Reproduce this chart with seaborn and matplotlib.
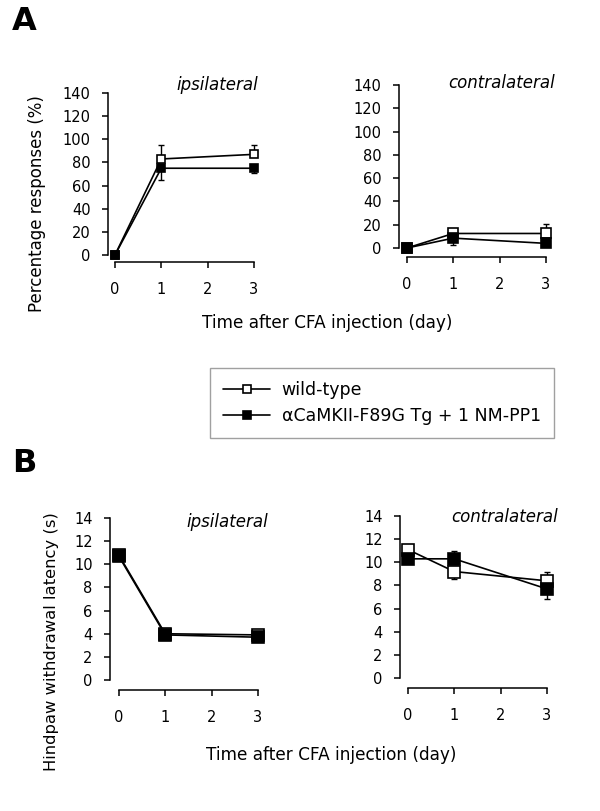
import numpy as np
import pandas as pd
import matplotlib
matplotlib.use("Agg")
import matplotlib.pyplot as plt
import seaborn as sns

# days after CFA injection
days = [0, 1, 3]

# A: percentage responses (%)
a_ipsi_wt = [0, 83, 87]
a_ipsi_wt_lo = [0, 0, 0]
a_ipsi_wt_hi = [0, 12, 8]
a_ipsi_tg = [0, 75, 75]
a_ipsi_tg_lo = [0, 10, 4]
a_ipsi_tg_hi = [0, 0, 0]

a_contra_wt = [0, 12.5, 12.5]
a_contra_wt_lo = [0, 0, 0]
a_contra_wt_hi = [0, 3, 8]
a_contra_tg = [0, 8.5, 4]
a_contra_tg_lo = [0, 6, 1]
a_contra_tg_hi = [0, 0, 0]

# B: hindpaw withdrawal latency (s)
b_ipsi_wt = [10.8, 4.0, 3.9]
b_ipsi_wt_lo = [0, 0, 0]
b_ipsi_wt_hi = [0.3, 0.2, 0.2]
b_ipsi_tg = [10.7, 3.9, 3.7]
b_ipsi_tg_lo = [0.3, 0.2, 0.2]
b_ipsi_tg_hi = [0, 0, 0]

b_contra_wt = [11.1, 9.2, 8.4]
b_contra_wt_lo = [0, 0.6, 0]
b_contra_wt_hi = [0.2, 0, 0.8]
b_contra_tg = [10.3, 10.3, 7.7]
b_contra_tg_lo = [0.2, 0, 0.9]
b_contra_tg_hi = [0, 0.7, 0]

wt_label = "wild-type"
tg_label = "\u03b1CaMKII-F89G Tg + 1 NM-PP1"

sns.set_style("white")
plt.rcParams["font.family"] = ["DejaVu Sans"]
plt.rcParams["text.color"] = "black"

W, H = 600, 811
fig = plt.figure(figsize=(6, 8.11), dpi=100)


def px_axes(left, right, bottom, top):
    return fig.add_axes([left / W, 1 - bottom / H, (right - left) / W, (bottom - top) / H])


def panel(ax, wt, wt_lo, wt_hi, tg, tg_lo, tg_hi, xlim, ylim, yticks, msize):
    df = pd.DataFrame({"day": days, "wt": wt, "tg": tg})
    ax.errorbar(days, wt, yerr=[wt_lo, wt_hi], fmt="none", ecolor="black",
                elinewidth=1.0, capsize=2.5, capthick=1.0, zorder=2, clip_on=False)
    sns.lineplot(data=df, x="day", y="wt", ax=ax, color="black", lw=1.2,
                 marker="s", markersize=msize, markerfacecolor="white",
                 markeredgecolor="black", markeredgewidth=1.2, label=wt_label,
                 zorder=3, clip_on=False, legend=False)
    ax.errorbar(days, tg, yerr=[tg_lo, tg_hi], fmt="none", ecolor="black",
                elinewidth=1.0, capsize=2.5, capthick=1.0, zorder=4, clip_on=False)
    sns.lineplot(data=df, x="day", y="tg", ax=ax, color="black", lw=1.2,
                 marker="s", markersize=msize, markerfacecolor="black",
                 markeredgecolor="black", markeredgewidth=1.2, label=tg_label,
                 zorder=5, clip_on=False, legend=False)
    ax.set_xlim(*xlim)
    ax.set_ylim(*ylim)
    ax.set_xticks([0, 1, 2, 3])
    ax.set_yticks(yticks)
    ax.set_xlabel("")
    ax.set_ylabel("")
    sns.despine(ax=ax)
    ax.spines["left"].set_bounds(yticks[0], yticks[-1])
    ax.spines["bottom"].set_bounds(0, 3)
    for s in ["left", "bottom"]:
        ax.spines[s].set_color("black")
        ax.spines[s].set_linewidth(1.1)
    ax.tick_params(axis="both", direction="out", colors="black", labelsize=10.5,
                   width=1.1, length=4.5, left=True, bottom=True)
    ax.tick_params(axis="x", pad=10)
    ax.tick_params(axis="y", pad=8)


ax1 = px_axes(108, 258.6, 262, 93)
panel(ax1, a_ipsi_wt, a_ipsi_wt_lo, a_ipsi_wt_hi, a_ipsi_tg, a_ipsi_tg_lo, a_ipsi_tg_hi,
      (-0.15, 3.1), (-6, 140), list(range(0, 141, 20)), 7.5)
ax2 = px_axes(399, 550.6, 257, 85)
panel(ax2, a_contra_wt, a_contra_wt_lo, a_contra_wt_hi, a_contra_tg, a_contra_tg_lo, a_contra_tg_hi,
      (-0.17, 3.1), (-7.7, 140), list(range(0, 141, 20)), 7.5)
ax3 = px_axes(110, 262.6, 690, 518)
panel(ax3, b_ipsi_wt, b_ipsi_wt_lo, b_ipsi_wt_hi, b_ipsi_tg, b_ipsi_tg_lo, b_ipsi_tg_hi,
      (-0.19, 3.1), (-0.86, 14), list(range(0, 15, 2)), 8.5)
ax4 = px_axes(400, 551.6, 688, 516)
panel(ax4, b_contra_wt, b_contra_wt_lo, b_contra_wt_hi, b_contra_tg, b_contra_tg_lo, b_contra_tg_hi,
      (-0.17, 3.1), (-0.86, 14), list(range(0, 15, 2)), 8.5)


def ftext(x, y, s, **kw):
    fig.text(x / W, 1 - y / H, s, color="black", **kw)


# panel titles
ftext(258, 85, "ipsilateral", ha="right", va="center", fontsize=12, style="italic")
ftext(555, 83, "contralateral", ha="right", va="center", fontsize=12, style="italic")
ftext(268, 522, "ipsilateral", ha="right", va="center", fontsize=12, style="italic")
ftext(558, 517, "contralateral", ha="right", va="center", fontsize=12, style="italic")

# axis labels
ftext(37, 204, "Percentage responses (%)", rotation=90, ha="center", va="center", fontsize=12)
ftext(52, 642, "Hindpaw withdrawal latency (s)", rotation=90, ha="center", va="center", fontsize=11.8)
ftext(327, 323, "Time after CFA injection (day)", ha="center", va="center", fontsize=12.2)
ftext(331, 755, "Time after CFA injection (day)", ha="center", va="center", fontsize=12.2)

# panel letters
ftext(24, 22, "A", ha="center", va="center", fontsize=23, fontweight="bold")
ftext(24, 463, "B", ha="center", va="center", fontsize=23, fontweight="bold")

handles, labels = ax1.get_legend_handles_labels()
for h in handles:
    h.set_markersize(6)
leg = fig.legend(handles, labels, loc="center", bbox_to_anchor=(382 / W, 1 - 403 / H),
                 fontsize=12.5, frameon=True, fancybox=False, handlelength=2.7,
                 handletextpad=0.65, labelspacing=0.45, borderpad=0.75)
leg.get_frame().set_edgecolor("#888888")
leg.get_frame().set_linewidth(1.0)

fig.savefig("out.png", dpi=100)
